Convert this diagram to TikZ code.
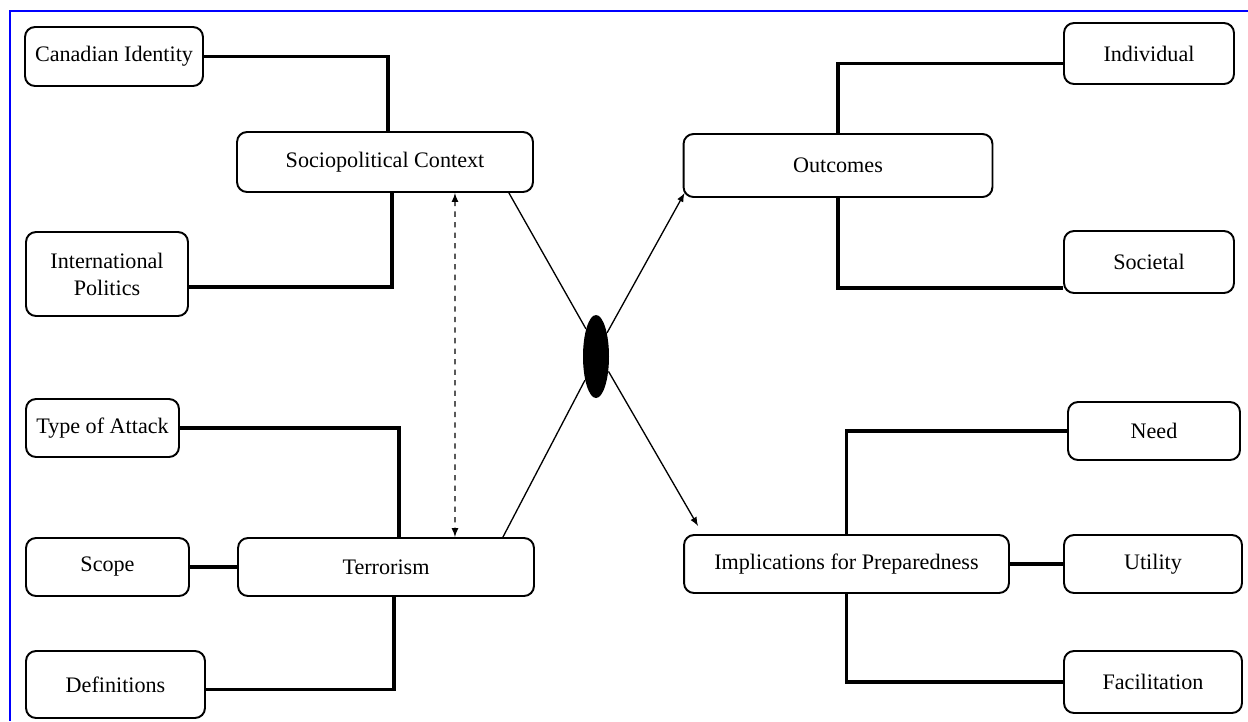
\documentclass[tikz,border=0pt]{standalone}
\usepackage{fontspec}
\setmainfont{Liberation Serif}
\usetikzlibrary{calc,shapes.geometric}

\begin{document}
\begin{tikzpicture}[x=0.02cm, y=-0.02cm,
    box/.style={draw, rounded corners=0.2cm, line width=1.1pt, inner sep=0pt, align=center, font=\fontsize{12.6}{15.3}\selectfont},
    link/.style={line width=2.2pt},
    ray/.style={line width=0.75pt}]
    \useasboundingbox (0,0) rectangle (1248,721);
    \draw[blue, line width=1.7pt] (10,721) -- (10,11) -- (1248,11);

    % left side
    \node[box, minimum width=3.56cm, minimum height=1.18cm] (CanId) at (114,56.5) {Canadian Identity};
    \node[box, minimum width=5.92cm, minimum height=1.2cm] (Socio) at (385,162) {Sociopolitical Context};
    \node[box, minimum width=3.24cm, minimum height=1.68cm] (IntPol) at (107,274) {International\\Politics};
    \node[box, minimum width=3.06cm, minimum height=1.16cm] (Attack) at (102.5,428) {Type of Attack};
    \node[box, minimum width=3.26cm, minimum height=1.16cm] (Scope) at (107.5,567) {Scope};
    \node[box, minimum width=5.92cm, minimum height=1.16cm] (Terror) at (386,567) {Terrorism};
    \node[box, minimum width=3.58cm, minimum height=1.34cm] (Defs) at (115.5,684.5) {Definitions};

    % right side
    \node[box, minimum width=6.18cm, minimum height=1.26cm] (Outc) at (838,165.5) {Outcomes};
    \node[box, minimum width=3.4cm, minimum height=1.22cm] (Indiv) at (1149,53.5) {Individual};
    \node[box, minimum width=3.4cm, minimum height=1.24cm] (Soc) at (1149,262) {Societal};
    \node[box, minimum width=6.5cm, minimum height=1.16cm] (Impl) at (846.5,564) {Implications for Preparedness};
    \node[box, minimum width=3.44cm, minimum height=1.16cm] (Need) at (1154,431) {Need};
    \node[box, minimum width=3.56cm, minimum height=1.16cm] (Util) at (1153,564) {Utility};
    \node[box, minimum width=3.56cm, minimum height=1.24cm] (Facil) at (1153,682) {Facilitation};

    \node[ellipse, fill=black, inner sep=0pt, minimum width=0.52cm, minimum height=1.66cm] (Hub) at (596,356.5) {};

    \draw[link] (CanId.east) -| ([xshift=0.06cm]Socio.north);
    \draw[link] ([yshift=-0.26cm]IntPol.east) -| ([xshift=0.14cm]Socio.south);
    \draw[link] (Attack.east) -| ([xshift=0.26cm]Terror.north);
    \draw[link] (Scope) -- (Terror);
    \draw[link] ([yshift=-0.1cm]Defs.east) -| ([xshift=0.16cm]Terror.south);
    \draw[link] (Outc.north) |- ([yshift=-0.2cm]Indiv.west);
    \draw[link] (Outc.south) |- ([yshift=-0.52cm]Soc.west);
    \draw[link] (Impl.north) |- (Need.west);
    \draw[link] (Impl) -- (Util);
    \draw[link] (Impl.south) |- (Facil.west);

    \draw[ray] ([xshift=-0.5cm]Socio.south east) -- (Hub.110);
    \draw[ray] ([xshift=-0.64cm]Terror.north east) -- (Hub.245);
    \draw[ray, -latex] (Hub.65) -- ([shift={(0.04cm,0.1cm)}]Outc.south west);
    \draw[ray, -latex] (Hub.310) -- ([shift={(0.3cm,0.16cm)}]Impl.north west);
    \draw[ray, dashed, latex-latex] ([xshift=1.4cm]Socio.south) -- ([xshift=1.38cm]Terror.north);
\end{tikzpicture}
\end{document}
